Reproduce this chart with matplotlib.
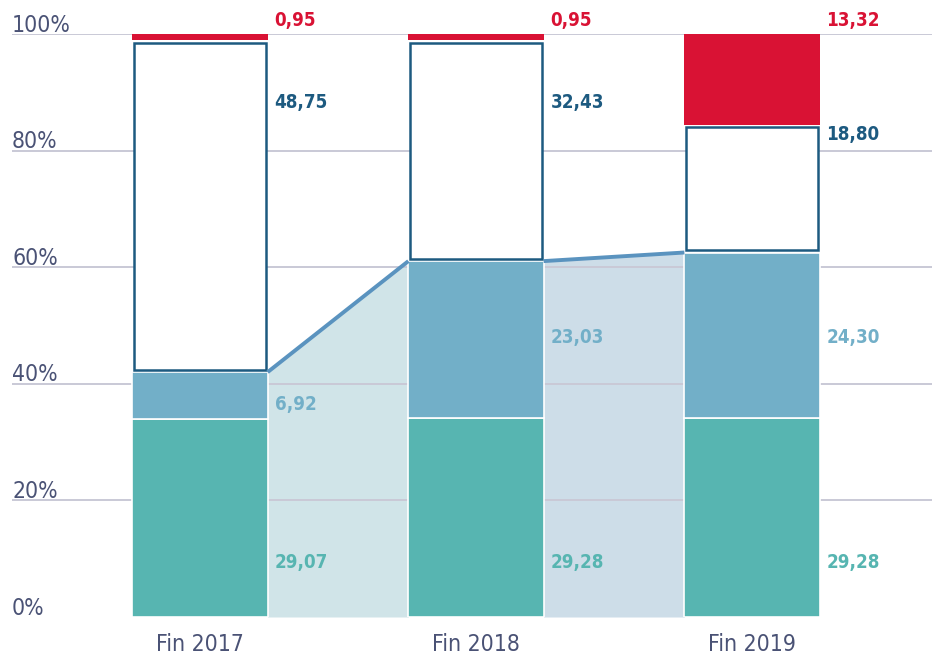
import numpy as np
import matplotlib
matplotlib.use("Agg")
import matplotlib.pyplot as plt
import matplotlib.transforms as mtransforms

# ================= DATA ================= #
YEARS = ["Fin 2017", "Fin 2018", "Fin 2019"]
TEAL = [29.07, 29.28, 29.28]
BLUE = [6.92, 23.03, 24.30]
WHITE = [48.75, 32.43, 18.80]
RED = [0.95, 0.95, 13.32]

# label heights (in % of axis)
LBL_TEAL_Y = [9.4, 9.4, 9.4]
LBL_BLUE_Y = [36.4, 48.0, 48.0]
LBL_WHITE_Y = [88.2, 88.2, 82.7]
LBL_RED_Y = [102.4, 102.4, 102.4]

# ================= STYLE ================= #
C_TEAL = "#57b5b1"
C_BLUE = "#72afc8"
C_NAVY = "#1d5a80"
C_RED = "#d91234"
C_LINE = "#5a93bf"
C_GRID = "#c9c9d6"
C_TICK = "#4a5275"
GAP_FILLS = ["#d0e4e8", "#cddde8"]

plt.rcParams["font.family"] = ["DejaVu Sans"]
plt.rcParams["font.stretch"] = "condensed"

W = 0.49

# normalise each column to 100 %
tot = np.array(TEAL) + np.array(BLUE) + np.array(WHITE) + np.array(RED)
teal = np.array(TEAL) / tot * 100
blue = np.array(BLUE) / tot * 100
white = np.array(WHITE) / tot * 100
red = np.array(RED) / tot * 100

x = np.arange(len(YEARS))

fig = plt.figure(figsize=(9.32, 6.59), dpi=100)
ax = fig.add_axes([12 / 932, 42 / 659, 920 / 932, 583 / 659])
ax.set_xlim((12 - 200) / 276, (932 - 200) / 276)
ax.set_ylim(0, 100)
ax.axis("off")

# connecting areas between the bars
blue_top = teal + blue
for i in range(len(x) - 1):
    xs = [x[i] + W / 2, x[i + 1] - W / 2]
    ys = [blue_top[i], blue_top[i + 1]]
    ax.fill_between(xs, 0, ys, color=GAP_FILLS[i], lw=0, zorder=1)
    ax.plot(xs, ys, color=C_LINE, lw=2.8, zorder=5, solid_capstyle="butt")

# grid
for g in [20, 40, 60, 80, 100]:
    ax.axhline(g, color=C_GRID, lw=1.4, zorder=2)

# bars
ax.bar(x, teal, W, color=C_TEAL, edgecolor="white", lw=1.2, zorder=3)
ax.bar(x, blue, W, bottom=teal, color=C_BLUE, edgecolor="white", lw=1.2, zorder=3)
ax.bar(x, white - 0.8, W - 0.012, bottom=teal + blue + 0.4, color="white",
       edgecolor=C_NAVY, lw=1.8, zorder=4)
ax.bar(x, red, W, bottom=teal + blue + white, color=C_RED, lw=0, zorder=3)

# value labels
def fmt(v):
    return f"{v:.2f}".replace(".", ",")

for i in range(len(x)):
    lx = x[i] + W / 2 + 0.025
    for vals, ys, c in [(TEAL, LBL_TEAL_Y, C_TEAL), (BLUE, LBL_BLUE_Y, C_BLUE),
                        (WHITE, LBL_WHITE_Y, C_NAVY), (RED, LBL_RED_Y, C_RED)]:
        ax.text(lx, ys[i], fmt(vals[i]), color=c, fontsize=13.5, fontweight="bold",
                ha="left", va="center", zorder=6)

# y tick labels
trans = mtransforms.blended_transform_factory(ax.transAxes, ax.transData)
for g in [0, 20, 40, 60, 80, 100]:
    ax.text(0, g + 0.4, f"{g}%", transform=trans, color=C_TICK, fontsize=16.5,
            ha="left", va="baseline")

# x tick labels
for i in range(len(x)):
    ax.text(x[i], -4.8, YEARS[i], color=C_TICK, fontsize=16.5, ha="center",
            va="center")

fig.savefig("out.png", dpi=100)
